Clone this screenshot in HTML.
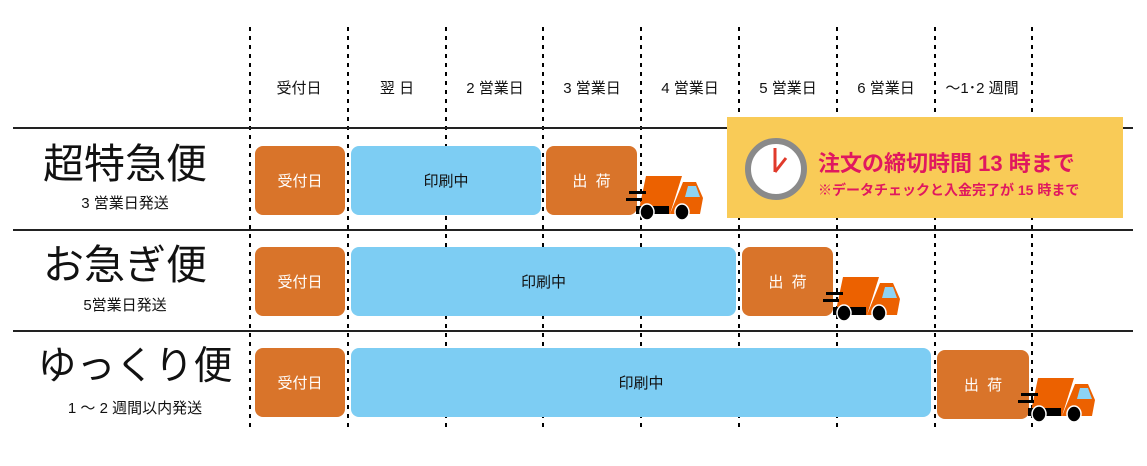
<!DOCTYPE html>
<html><head><meta charset="utf-8"><style>
body{margin:0;width:1147px;height:466px;background:#fff;position:relative;overflow:hidden;font-family:"Liberation Sans","Noto Sans CJK JP",sans-serif;}
.v{position:absolute;top:27px;height:405px;width:2px;background:repeating-linear-gradient(#000 0 4px,transparent 4px 9px);}
.h{position:absolute;left:13px;width:1120px;height:2px;background:#222;}
.hd{position:absolute;top:77px;width:98px;text-align:center;font-size:15px;color:#111;}
.b{position:absolute;height:69px;border-radius:8px;display:flex;align-items:center;justify-content:center;font-size:15px;}
.o{background:#d9742a;color:#fff;}
.c{background:#7dcdf3;color:#111;}
.t{position:absolute;width:80px;height:48px;}
.name{position:absolute;width:240px;text-align:center;font-size:41px;color:#111;line-height:1;}
.sub{position:absolute;width:240px;text-align:center;font-size:15px;color:#111;}
</style></head><body>
<div class="v" style="left:249px"></div><div class="v" style="left:347px"></div><div class="v" style="left:445px"></div><div class="v" style="left:542px"></div><div class="v" style="left:640px"></div><div class="v" style="left:738px"></div><div class="v" style="left:836px"></div><div class="v" style="left:934px"></div><div class="v" style="left:1031px"></div>
<div class="h" style="top:127px"></div><div class="h" style="top:229px"></div><div class="h" style="top:330px"></div>
<div class="hd" style="left:250px">受付日</div><div class="hd" style="left:348px">翌 日</div><div class="hd" style="left:446px">2 営業日</div><div class="hd" style="left:543px">3 営業日</div><div class="hd" style="left:641px">4 営業日</div><div class="hd" style="left:739px">5 営業日</div><div class="hd" style="left:837px">6 営業日</div><div class="hd" style="left:933px">～1･2 週間</div>

<div class="name" style="left:5px;top:144px">超特急便</div><div class="sub" style="left:5px;top:192px">3 営業日発送</div>
<div class="name" style="left:5px;top:245px">お急ぎ便</div><div class="sub" style="left:5px;top:294px">5営業日発送</div>
<div class="name" style="left:15px;top:347px;font-size:39px">ゆっくり便</div><div class="sub" style="left:15px;top:397px">1 ～ 2 週間以内発送</div>

<div class="b o" style="left:255px;top:146px;width:90px">受付日</div>
<div class="b c" style="left:351px;top:146px;width:190px">印刷中</div>
<div class="b o" style="left:546px;top:146px;width:91px">出&nbsp;&nbsp;荷</div>
<div class="b o" style="left:255px;top:247px;width:90px">受付日</div>
<div class="b c" style="left:351px;top:247px;width:385px">印刷中</div>
<div class="b o" style="left:742px;top:247px;width:91px">出&nbsp;&nbsp;荷</div>
<div class="b o" style="left:255px;top:348px;width:90px">受付日</div>
<div class="b c" style="left:351px;top:348px;width:580px">印刷中</div>
<div class="b o" style="left:937px;top:350px;width:92px">出&nbsp;&nbsp;荷</div>

<svg width="0" height="0" style="position:absolute"><defs><g id="tr">
<polygon points="20,0 56,0 44,38 12,38" fill="#ec6100"/>
<polygon points="57,6 70,6 77,22 74,38 44,38" fill="#ec6100"/>
<polygon points="62,10 70,10 74,21 59,21" fill="#8dd3f4"/>
<rect x="10" y="30" width="33" height="8" fill="#000"/>
<ellipse cx="21" cy="36" rx="7" ry="8" fill="#000" stroke="#fff" stroke-width="1.5"/>
<ellipse cx="56" cy="36" rx="7" ry="8" fill="#000" stroke="#fff" stroke-width="1.5"/>
<rect x="3" y="15" width="17" height="3" fill="#000"/><rect x="0" y="22" width="16" height="3" fill="#000"/>
</g></defs></svg>
<svg class="t" style="left:626px;top:176px" viewBox="0 0 80 48"><use href="#tr"/></svg>
<svg class="t" style="left:823px;top:277px" viewBox="0 0 80 48"><use href="#tr"/></svg>
<svg class="t" style="left:1018px;top:378px" viewBox="0 0 80 48"><use href="#tr"/></svg>

<div style="position:absolute;left:727px;top:117px;width:396px;height:101px;background:#f9cb57;"></div>
<svg style="position:absolute;left:745px;top:138px" width="62" height="62" viewBox="0 0 62 62">
<circle cx="31" cy="31" r="28" fill="#fff" stroke="#8a8a8a" stroke-width="6"/>
<line x1="30" y1="34" x2="30" y2="10" stroke="#e03a2b" stroke-width="3"/>
<line x1="30" y1="34" x2="41" y2="20" stroke="#e03a2b" stroke-width="3"/>
</svg>
<div style="position:absolute;left:818px;top:146px;font-size:22px;font-weight:bold;color:#e0185f;white-space:nowrap">注文の締切時間 13 時まで</div>
<div style="position:absolute;left:818px;top:180px;font-size:14px;font-weight:bold;color:#e0185f;white-space:nowrap">※データチェックと入金完了が 15 時まで</div>
</body></html>
